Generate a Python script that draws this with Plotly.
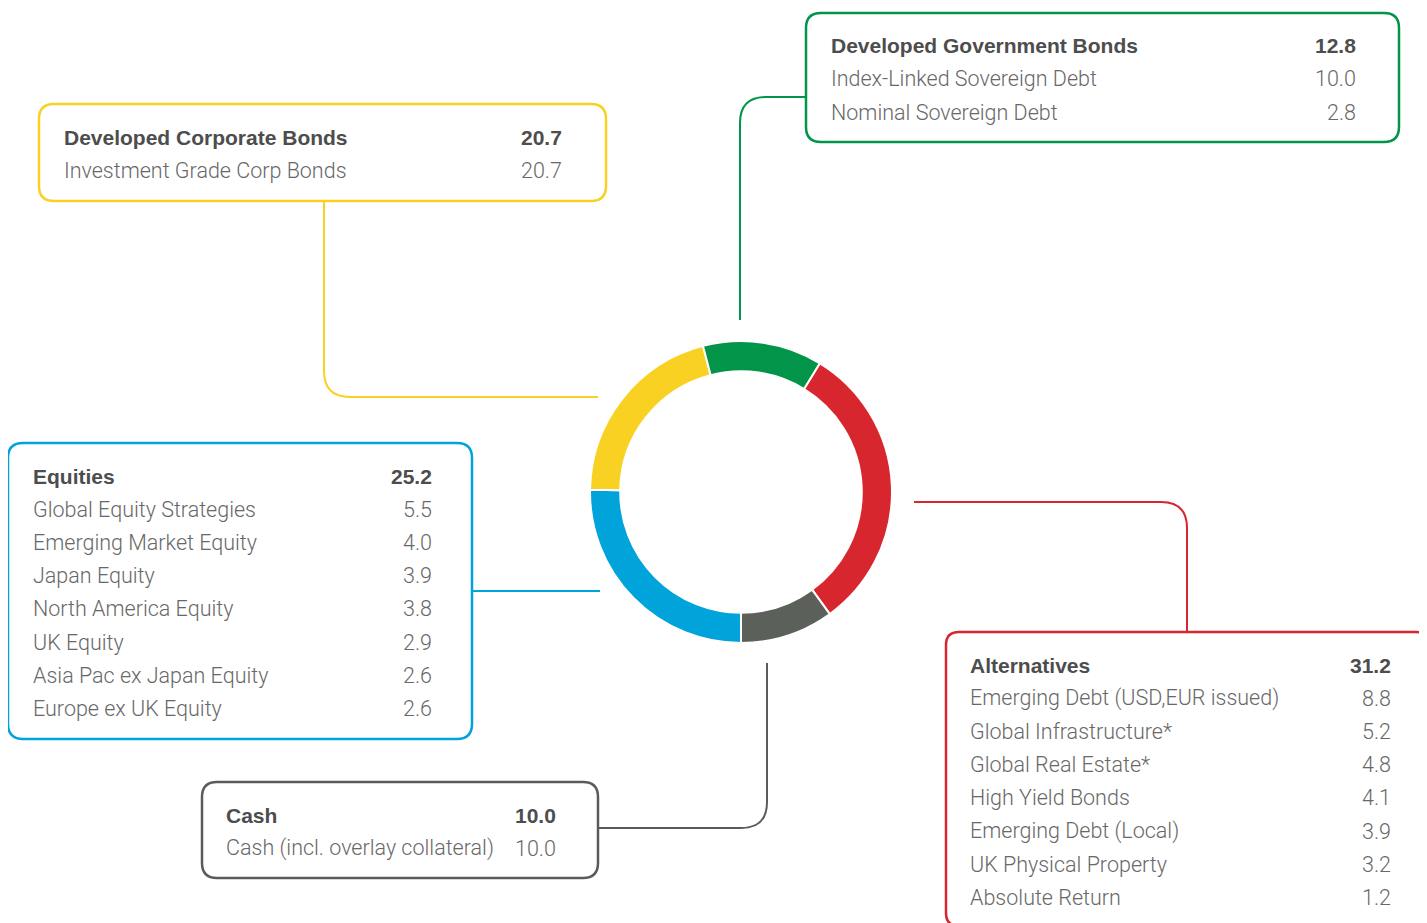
import plotly.graph_objects as go

# ---------------- data ----------------
group_names = ["Equities", "Developed Corporate Bonds", "Developed Government Bonds", "Alternatives", "Cash"]
group_values = [25.2, 20.7, 12.8, 31.2, 10.0]
group_colors = ["#00A4DA", "#F9D122", "#02954A", "#D7262E", "#5B605B"]

equity_items = ["Global Equity Strategies", "Emerging Market Equity", "Japan Equity", "North America Equity",
                "UK Equity", "Asia Pac ex Japan Equity", "Europe ex UK Equity"]
equity_values = [5.5, 4.0, 3.9, 3.8, 2.9, 2.6, 2.6]

corp_items = ["Investment Grade Corp Bonds"]
corp_values = [20.7]

gov_items = ["Index-Linked Sovereign Debt", "Nominal Sovereign Debt"]
gov_values = [10.0, 2.8]

alt_items = ["Emerging Debt (USD,EUR issued)", "Global Infrastructure*", "Global Real Estate*",
             "High Yield Bonds", "Emerging Debt (Local)", "UK Physical Property", "Absolute Return"]
alt_values = [8.8, 5.2, 4.8, 4.1, 3.9, 3.2, 1.2]

cash_items = ["Cash (incl. overlay collateral)"]
cash_values = [10.0]

# page offset of the figure (body margin) and window size
OFF = 8
WIN_W, WIN_H = 1427, 923
W, H = WIN_W - OFF, WIN_H - OFF
ITEM_FONT = "Roboto"
HEAD_FONT = "Liberation Sans"
HEAD_COL = "#4d4d4d"
ITEM_COL = "#686868"
FS_ITEM = 21.5
FS_HEAD = 21
PAD = 2  # annotation inner padding compensation

fig = go.Figure()

# donut (page coordinates)
cx, cy, R = 741, 492, 151
fig.add_trace(go.Pie(
    labels=group_names, values=group_values, sort=False, direction="clockwise", rotation=180,
    hole=0.80, marker=dict(colors=group_colors, line=dict(color="white", width=2)),
    textinfo="none", showlegend=False,
    domain=dict(x=[(cx - R - OFF) / W, (cx + R - OFF) / W],
                y=[1 - (cy + R - OFF) / H, 1 - (cy - R - OFF) / H]),
))


def rrect(x0, y0, x1, y1, r):
    return (f"M{x0+r},{y0} L{x1-r},{y0} Q{x1},{y0} {x1},{y0+r} L{x1},{y1-r} Q{x1},{y1} {x1-r},{y1} "
            f"L{x0+r},{y1} Q{x0},{y1} {x0},{y1-r} L{x0},{y0+r} Q{x0},{y0} {x0+r},{y0} Z")


shapes = []


def box(x0, y0, x1, y1, color, r=15):
    shapes.append(dict(type="path", path=rrect(x0, y0, x1, y1, r), xref="x", yref="y",
                       line=dict(color=color, width=2.5), fillcolor="rgba(0,0,0,0)", layer="above"))


def conn(path, color):
    shapes.append(dict(type="path", path=path, xref="x", yref="y",
                       line=dict(color=color, width=2), fillcolor="rgba(0,0,0,0)", layer="above"))


annotations = []


def block(x_left, x_right, y0, dy, header, total, items, values):
    xl, xr = x_left - PAD, x_right + PAD
    annotations.append(dict(x=xl, y=y0, text=f"<b>{header}</b>", xanchor="left", yanchor="middle",
                            showarrow=False, xref="x", yref="y",
                            font=dict(family=HEAD_FONT, size=FS_HEAD, color=HEAD_COL)))
    annotations.append(dict(x=xr, y=y0, text=f"<b>{total:.1f}</b>", xanchor="right", yanchor="middle",
                            showarrow=False, xref="x", yref="y",
                            font=dict(family=HEAD_FONT, size=FS_HEAD, color=HEAD_COL)))
    for i, (it, v) in enumerate(zip(items, values)):
        y = y0 + dy * (i + 1)
        annotations.append(dict(x=xl, y=y, text=it, xanchor="left", yanchor="middle",
                                showarrow=False, xref="x", yref="y",
                                font=dict(family=ITEM_FONT, size=FS_ITEM, color=ITEM_COL, weight=300)))
        annotations.append(dict(x=xr, y=y, text=f"{v:.1f}", xanchor="right", yanchor="middle",
                                showarrow=False, xref="x", yref="y",
                                font=dict(family=ITEM_FONT, size=FS_ITEM, color=ITEM_COL, weight=300)))


# Developed Corporate Bonds (yellow)
box(39, 104, 606, 201, group_colors[1])
conn("M324,201 L324,371 Q324,397 350,397 L598,397", group_colors[1])
block(64, 562, 137, 33.2, group_names[1], group_values[1], corp_items, corp_values)

# Developed Government Bonds (green)
box(806, 13, 1399, 142, group_colors[2])
conn("M806,97 L766,97 Q740,97 740,123 L740,320", group_colors[2])
block(831, 1356, 45, 33.5, group_names[2], group_values[2], gov_items, gov_values)

# Equities (blue)
box(8, 443, 472, 739, group_colors[0])
conn("M472,591 L600,591", group_colors[0])
block(33, 432, 476, 33.2, group_names[0], group_values[0], equity_items, equity_values)

# Cash (grey)
box(202, 782, 598, 878, "#5B5B5B")
conn("M598,828 L741,828 Q767,828 767,802 L767,663", "#5B5B5B")
block(226, 556, 815, 33.2, group_names[4], group_values[4], cash_items, cash_values)

# Alternatives (red)
box(946, 632, 1429, 926, group_colors[3], r=13)
conn("M914,502 L1161,502 Q1187,502 1187,528 L1187,632", group_colors[3])
block(970, 1391, 665, 33.2, group_names[3], group_values[3], alt_items, alt_values)

fig.update_layout(
    width=W, height=H, margin=dict(l=0, r=0, t=0, b=0),
    paper_bgcolor="white", plot_bgcolor="white",
    xaxis=dict(range=[OFF, WIN_W], visible=False, fixedrange=True),
    yaxis=dict(range=[WIN_H, OFF], visible=False, fixedrange=True),
    shapes=shapes, annotations=annotations,
)

fig.write_html("out.html")
